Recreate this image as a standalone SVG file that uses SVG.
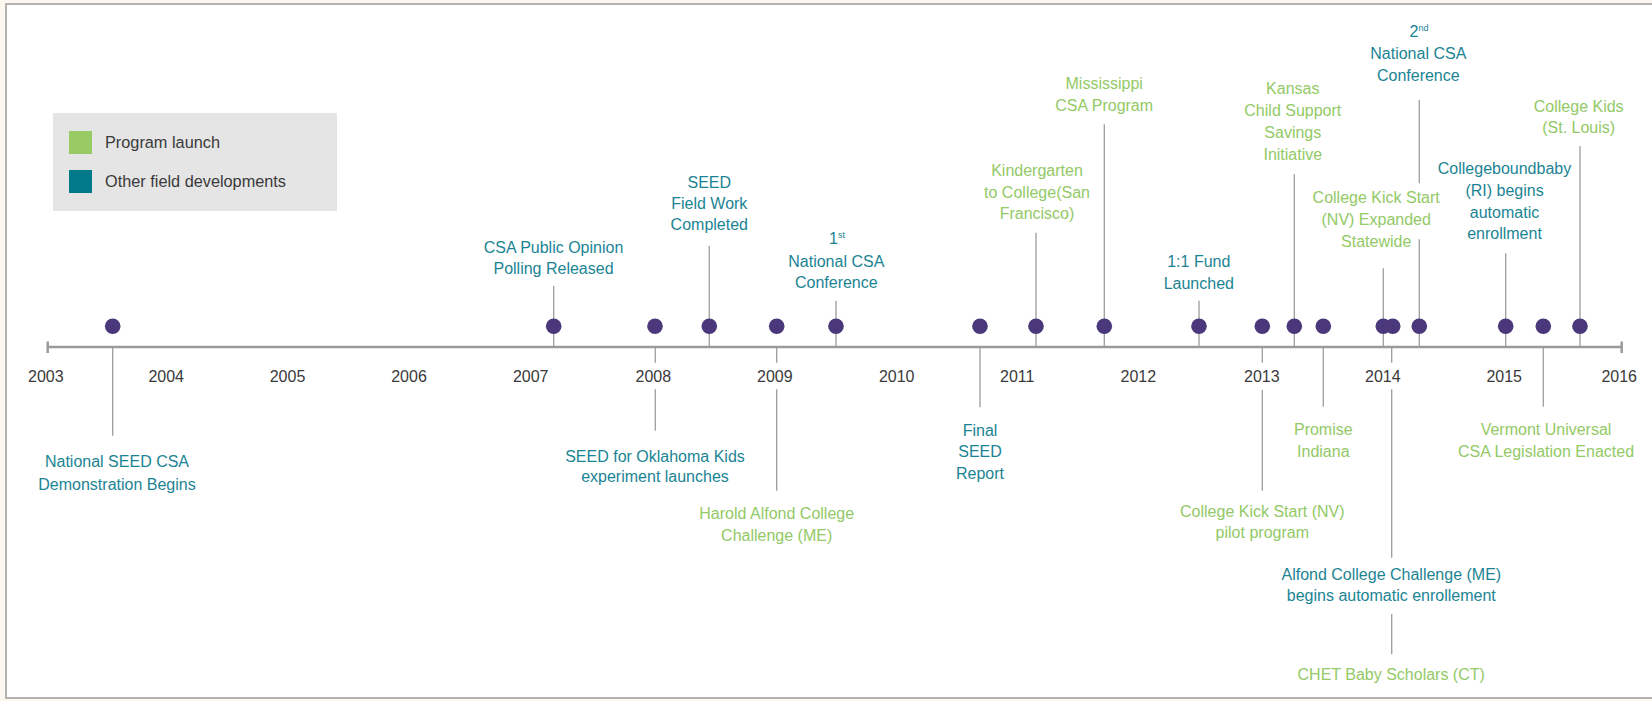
<svg xmlns="http://www.w3.org/2000/svg" width="1652" height="701" viewBox="0 0 1652 701">
<style>
  text { font-family: "Liberation Sans", Arial, sans-serif; font-size: 16px; text-anchor: middle; }
  .teal { fill: #1b8494; }
  .green { fill: #93c966; }
  .yr { fill: #3a3a3a; }
  .leg { fill: #3a3a3a; text-anchor: start; font-size: 16.3px; }
  .conn { stroke: #9c9c9c; stroke-width: 1.3; fill: none; }
  .axis { stroke: #9a9a9a; stroke-width: 2.5; fill: none; }
  .dot { fill: #4b387a; }
  .sup { font-size: 9px; }
</style>
<rect width="1652" height="701" fill="#fcf7ef"/>
<rect x="6" y="4" width="1680" height="694" fill="#ffffff" stroke="#b3b3b3" stroke-width="2"/>

<g id="legend">
  <rect x="53" y="113" width="284" height="98" fill="#e5e5e5"/>
  <rect x="69" y="131" width="23" height="23" fill="#99cb65"/>
  <rect x="69" y="170" width="23" height="23" fill="#00798b"/>
  <text class="leg" x="105" y="148">Program launch</text>
  <text class="leg" x="105" y="187">Other field developments</text>
</g>

<g id="axis">
  <line class="axis" x1="47.7" y1="347" x2="1621.7" y2="347"/>
  <line class="axis" stroke-width="2" x1="47.7" y1="341.5" x2="47.7" y2="353"/>
  <line class="axis" stroke-width="2" x1="1621.7" y1="341.5" x2="1621.7" y2="353"/>
</g>

<g id="years" class="yr">
  <text class="yr" x="45.8" y="382">2003</text>
  <text class="yr" x="166.2" y="382">2004</text>
  <text class="yr" x="287.5" y="382">2005</text>
  <text class="yr" x="409" y="382">2006</text>
  <text class="yr" x="530.7" y="382">2007</text>
  <text class="yr" x="653.3" y="382">2008</text>
  <text class="yr" x="774.8" y="382">2009</text>
  <text class="yr" x="896.7" y="382">2010</text>
  <text class="yr" x="1017.2" y="382">2011</text>
  <text class="yr" x="1138.3" y="382">2012</text>
  <text class="yr" x="1261.8" y="382">2013</text>
  <text class="yr" x="1382.8" y="382">2014</text>
  <text class="yr" x="1504.2" y="382">2015</text>
  <text class="yr" x="1619.2" y="382">2016</text>
</g>

<g id="connectors" class="conn">
  <line x1="553.7" y1="286" x2="553.7" y2="347"/>
  <line x1="709.3" y1="246" x2="709.3" y2="347"/>
  <line x1="836" y1="300.7" x2="836" y2="347"/>
  <line x1="1036" y1="232.7" x2="1036" y2="347"/>
  <line x1="1104.3" y1="124.3" x2="1104.3" y2="347"/>
  <line x1="1199" y1="300.7" x2="1199" y2="347"/>
  <line x1="1294.3" y1="174.3" x2="1294.3" y2="347"/>
  <line x1="1383.3" y1="268.3" x2="1383.3" y2="347"/>
  <line x1="1419.3" y1="100" x2="1419.3" y2="183.3"/>
  <line x1="1419.3" y1="239.3" x2="1419.3" y2="347"/>
  <line x1="1505.7" y1="253.3" x2="1505.7" y2="347"/>
  <line x1="1580" y1="146" x2="1580" y2="347"/>
  <line x1="112.7" y1="348" x2="112.7" y2="435.7"/>
  <line x1="655.3" y1="348" x2="655.3" y2="362.7"/>
  <line x1="655.3" y1="389.3" x2="655.3" y2="430.7"/>
  <line x1="776.7" y1="348" x2="776.7" y2="362.7"/>
  <line x1="776.7" y1="389.3" x2="776.7" y2="490.7"/>
  <line x1="980" y1="348" x2="980" y2="407.3"/>
  <line x1="1262.3" y1="348" x2="1262.3" y2="362.7"/>
  <line x1="1262.3" y1="390" x2="1262.3" y2="490.7"/>
  <line x1="1323.3" y1="348" x2="1323.3" y2="406.7"/>
  <line x1="1391.7" y1="348" x2="1391.7" y2="362.7"/>
  <line x1="1391.7" y1="389.3" x2="1391.7" y2="557.7"/>
  <line x1="1391.7" y1="614" x2="1391.7" y2="654.3"/>
  <line x1="1543.3" y1="348" x2="1543.3" y2="406.7"/>
</g>

<g id="ev-seed-demo">
  <circle class="dot" cx="112.7" cy="326.3" r="7.8"/>
  <text class="teal"><tspan x="117" y="467.3">National SEED CSA</tspan><tspan x="117" y="489.5">Demonstration Begins</tspan></text>
</g>
<g id="ev-polling">
  <circle class="dot" cx="553.7" cy="326.3" r="7.8"/>
  <text class="teal"><tspan x="553.5" y="252.7">CSA Public Opinion</tspan><tspan x="553.5" y="273.5">Polling Released</tspan></text>
</g>
<g id="ev-oklahoma">
  <circle class="dot" cx="655" cy="326.3" r="7.8"/>
  <text class="teal"><tspan x="655" y="461.7">SEED for Oklahoma Kids</tspan><tspan x="655" y="481.7">experiment launches</tspan></text>
</g>
<g id="ev-fieldwork">
  <circle class="dot" cx="709.3" cy="326.3" r="7.8"/>
  <text class="teal"><tspan x="709.3" y="188">SEED</tspan><tspan x="709.3" y="209.3">Field Work</tspan><tspan x="709.3" y="230">Completed</tspan></text>
</g>
<g id="ev-harold">
  <circle class="dot" cx="776.7" cy="326.3" r="7.8"/>
  <text class="green"><tspan x="776.7" y="519.3">Harold Alfond College</tspan><tspan x="776.7" y="541">Challenge (ME)</tspan></text>
</g>
<g id="ev-conf1">
  <circle class="dot" cx="836" cy="326.3" r="7.8"/>
  <text class="teal"><tspan x="837" y="244.3">1<tspan class="sup" dy="-6">st</tspan></tspan><tspan x="836.3" y="266.7">National CSA</tspan><tspan x="836.3" y="288.3">Conference</tspan></text>
</g>
<g id="ev-final">
  <circle class="dot" cx="980" cy="326.3" r="7.8"/>
  <text class="teal"><tspan x="980" y="435.5">Final</tspan><tspan x="980" y="457.3">SEED</tspan><tspan x="980" y="479">Report</tspan></text>
</g>
<g id="ev-k2c">
  <circle class="dot" cx="1036" cy="326.3" r="7.8"/>
  <text class="green"><tspan x="1037" y="176">Kindergarten</tspan><tspan x="1037" y="197.7">to College(San</tspan><tspan x="1037" y="219.3">Francisco)</tspan></text>
</g>
<g id="ev-mississippi">
  <circle class="dot" cx="1104.3" cy="326.3" r="7.8"/>
  <text class="green"><tspan x="1104.2" y="89.3">Mississippi</tspan><tspan x="1104.2" y="110.7">CSA Program</tspan></text>
</g>
<g id="ev-fund">
  <circle class="dot" cx="1199" cy="326.3" r="7.8"/>
  <text class="teal"><tspan x="1198.8" y="267.3">1:1 Fund</tspan><tspan x="1198.8" y="288.7">Launched</tspan></text>
</g>
<g id="ev-kickstart-pilot">
  <circle class="dot" cx="1262.3" cy="326.3" r="7.8"/>
  <text class="green"><tspan x="1262.3" y="516.7">College Kick Start (NV)</tspan><tspan x="1262.3" y="537.7">pilot program</tspan></text>
</g>
<g id="ev-kansas">
  <circle class="dot" cx="1294.3" cy="326.3" r="7.8"/>
  <text class="green"><tspan x="1292.8" y="94.3">Kansas</tspan><tspan x="1292.8" y="116.3">Child Support</tspan><tspan x="1292.8" y="138.3">Savings</tspan><tspan x="1292.8" y="160">Initiative</tspan></text>
</g>
<g id="ev-promise">
  <circle class="dot" cx="1323.3" cy="326.3" r="7.8"/>
  <text class="green"><tspan x="1323.3" y="435">Promise</tspan><tspan x="1323.3" y="456.7">Indiana</tspan></text>
</g>
<g id="ev-kickstart-state">
  <circle class="dot" cx="1383.3" cy="326.3" r="7.8"/>
  <text class="green"><tspan x="1376.2" y="203.3">College Kick Start</tspan><tspan x="1376.2" y="225">(NV) Expanded</tspan><tspan x="1376.2" y="246.7">Statewide</tspan></text>
</g>
<g id="ev-alfond-chet">
  <circle class="dot" cx="1392.7" cy="326.3" r="7.8"/>
  <text class="teal"><tspan x="1391.3" y="580">Alfond College Challenge (ME)</tspan><tspan x="1391.3" y="600.7">begins automatic enrollement</tspan></text>
  <text class="green" x="1391.2" y="680">CHET Baby Scholars (CT)</text>
</g>
<g id="ev-conf2">
  <circle class="dot" cx="1419.3" cy="326.3" r="7.8"/>
  <text class="teal"><tspan x="1419" y="36.7">2<tspan class="sup" dy="-6">nd</tspan></tspan><tspan x="1418.3" y="59.3">National CSA</tspan><tspan x="1418.3" y="81">Conference</tspan></text>
</g>
<g id="ev-cbb">
  <circle class="dot" cx="1505.7" cy="326.3" r="7.8"/>
  <text class="teal"><tspan x="1504.5" y="174.3">Collegeboundbaby</tspan><tspan x="1504.5" y="196">(RI) begins</tspan><tspan x="1504.5" y="217.7">automatic</tspan><tspan x="1504.5" y="239.3">enrollment</tspan></text>
</g>
<g id="ev-vermont">
  <circle class="dot" cx="1543.3" cy="326.3" r="7.8"/>
  <text class="green"><tspan x="1546" y="435">Vermont Universal</tspan><tspan x="1546" y="456.7">CSA Legislation Enacted</tspan></text>
</g>
<g id="ev-collegekids">
  <circle class="dot" cx="1580" cy="326.3" r="7.8"/>
  <text class="green"><tspan x="1578.7" y="111.7">College Kids</tspan><tspan x="1578.7" y="133.3">(St. Louis)</tspan></text>
</g>
</svg>
